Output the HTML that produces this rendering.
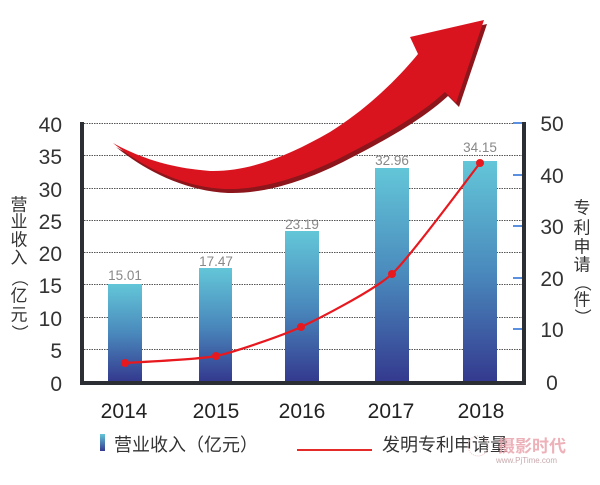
<!DOCTYPE html>
<html><head><meta charset="utf-8"><style>
html,body{margin:0;padding:0;background:#fff;}
svg{display:block;}
.t{font-family:"Liberation Sans","Noto Sans CJK SC",sans-serif;}
</style></head><body>
<svg width="600" height="485" viewBox="0 0 600 485" xmlns="http://www.w3.org/2000/svg">
<defs>
<linearGradient id="bg" x1="0" y1="0" x2="0" y2="1">
<stop offset="0" stop-color="#63c6d8"/>
<stop offset="0.5" stop-color="#4a8abd"/>
<stop offset="1" stop-color="#343a8f"/>
</linearGradient>
<linearGradient id="bgl" x1="0" y1="0" x2="0" y2="1">
<stop offset="0" stop-color="#63c6d8"/>
<stop offset="1" stop-color="#343a8f"/>
</linearGradient>
</defs>
<!-- gridlines -->
<g stroke="#555" stroke-width="1" stroke-dasharray="1.5 1">
<line x1="84" y1="123.5" x2="522" y2="123.5"/>
<line x1="84" y1="155.5" x2="522" y2="155.5"/>
<line x1="84" y1="188.5" x2="522" y2="188.5"/>
<line x1="84" y1="220.5" x2="522" y2="220.5"/>
<line x1="84" y1="252.5" x2="522" y2="252.5"/>
<line x1="84" y1="284.5" x2="522" y2="284.5"/>
<line x1="84" y1="317.5" x2="522" y2="317.5"/>
<line x1="84" y1="349.5" x2="522" y2="349.5"/>
</g>
<!-- bars -->
<rect x="108" y="284" width="34" height="97" fill="url(#bg)"/>
<rect x="199" y="268" width="33" height="113" fill="url(#bg)"/>
<rect x="285" y="231" width="34" height="150" fill="url(#bg)"/>
<rect x="375" y="168" width="34" height="213" fill="url(#bg)"/>
<rect x="463" y="161" width="34" height="220" fill="url(#bg)"/>
<!-- data labels -->
<g class="t" font-size="13.5" fill="#888" text-anchor="middle">
<text x="125" y="280">15.01</text>
<text x="216" y="266">17.47</text>
<text x="302" y="229">23.19</text>
<text x="392" y="165">32.96</text>
<text x="480" y="152">34.15</text>
</g>
<!-- arrow -->
<path d="M113,143 C140,158 170,168 210,171 C250,172 290,155 330,132 C365,110 395,82 418,54 L410,37 L484,20 L456,103 L445,92 C420,115 385,135 340,158 C300,178 260,190 225,189 C180,187 140,165 113,143 Z" fill="#8c161b" transform="translate(3,4)"/>
<path d="M113,143 C140,158 170,168 210,171 C250,172 290,155 330,132 C365,110 395,82 418,54 L410,37 L484,20 L456,103 L445,92 C420,115 385,135 340,158 C300,178 260,190 225,189 C180,187 140,165 113,143 Z" fill="#da141f"/>
<!-- axes -->
<rect x="80" y="122" width="4" height="263" fill="#2b2f33"/>
<rect x="522" y="122" width="4" height="263" fill="#2b2f33"/>
<rect x="80" y="381" width="446" height="4" fill="#2b2f33"/>
<!-- right ticks -->
<g stroke="#5b8fe0" stroke-width="2">
<line x1="513" y1="123" x2="522" y2="123"/>
<line x1="513" y1="175" x2="522" y2="175"/>
<line x1="513" y1="226" x2="522" y2="226"/>
<line x1="513" y1="278" x2="522" y2="278"/>
<line x1="513" y1="329" x2="522" y2="329"/>
</g>
<!-- line series -->
<path d="M125,363 C134.1,362.3 198.4,359.6 216,356 C233.6,352.4 283.4,335.2 301,327 C318.6,318.8 374.1,290.4 392,274 C409.9,257.6 471.2,174.1 480,163" fill="none" stroke="#e8181f" stroke-width="2.2"/>
<g fill="#e8181f">
<circle cx="125" cy="363" r="4"/>
<circle cx="216" cy="356" r="4"/>
<circle cx="301" cy="327" r="4"/>
<circle cx="392" cy="274" r="4"/>
<circle cx="480" cy="163" r="4"/>
</g>
<!-- left tick labels -->
<g class="t" font-size="21" fill="#333" text-anchor="end">
<text x="62" y="132">40</text>
<text x="62" y="164">35</text>
<text x="62" y="197">30</text>
<text x="62" y="229">25</text>
<text x="62" y="261">20</text>
<text x="62" y="293">15</text>
<text x="62" y="326">10</text>
<text x="62" y="358">5</text>
<text x="62" y="391">0</text>
</g>
<!-- right tick labels -->
<g class="t" font-size="21" fill="#333" text-anchor="middle">
<text x="552" y="131">50</text>
<text x="552" y="183">40</text>
<text x="552" y="234">30</text>
<text x="552" y="286">20</text>
<text x="552" y="337">10</text>
<text x="552" y="390">0</text>
</g>
<!-- left axis title -->
<g class="t" font-size="17" fill="#333" text-anchor="middle" dominant-baseline="central">
<text x="19" y="205">营</text>
<text x="19" y="222">业</text>
<text x="19" y="240">收</text>
<text x="19" y="258">入</text>
<text x="19" y="278" transform="rotate(90 19 278)">（</text>
<text x="19" y="296">亿</text>
<text x="19" y="315">元</text>
<text x="19" y="333" transform="rotate(90 19 333)">）</text>
</g>
<!-- right axis title -->
<g class="t" font-size="17" fill="#333" text-anchor="middle" dominant-baseline="central">
<text x="582" y="208">专</text>
<text x="582" y="228">利</text>
<text x="582" y="247">申</text>
<text x="582" y="265">请</text>
<text x="582" y="283" transform="rotate(90 582 283)">（</text>
<text x="582" y="300">件</text>
<text x="582" y="317" transform="rotate(90 582 317)">）</text>
</g>
<!-- year labels -->
<g class="t" font-size="21" fill="#222" text-anchor="middle">
<text x="124" y="418">2014</text>
<text x="216" y="418">2015</text>
<text x="302" y="418">2016</text>
<text x="391" y="418">2017</text>
<text x="481" y="418">2018</text>
</g>
<!-- legend -->
<rect x="100" y="434" width="5" height="17" fill="url(#bgl)"/>
<text class="t" x="114" y="451" font-size="18" fill="#333">营业收入（亿元）</text>
<line x1="297" y1="450" x2="372" y2="450" stroke="#e52a2a" stroke-width="2"/>
<text class="t" x="382" y="451" font-size="18" fill="#333">发明专利申请量</text>
<!-- watermark -->
<circle cx="478" cy="446" r="10" fill="none" stroke="#f0c8c8" stroke-width="1" stroke-dasharray="1 1"/>
<text class="t" x="498" y="452" font-size="17" font-weight="bold" fill="#eba4ad" opacity="0.85">摄影时代</text>
<text class="t" x="496" y="463" font-size="8" fill="#c9a9ad" font-family="Liberation Serif">www.PjTime.com</text>
</svg>
</body></html>
